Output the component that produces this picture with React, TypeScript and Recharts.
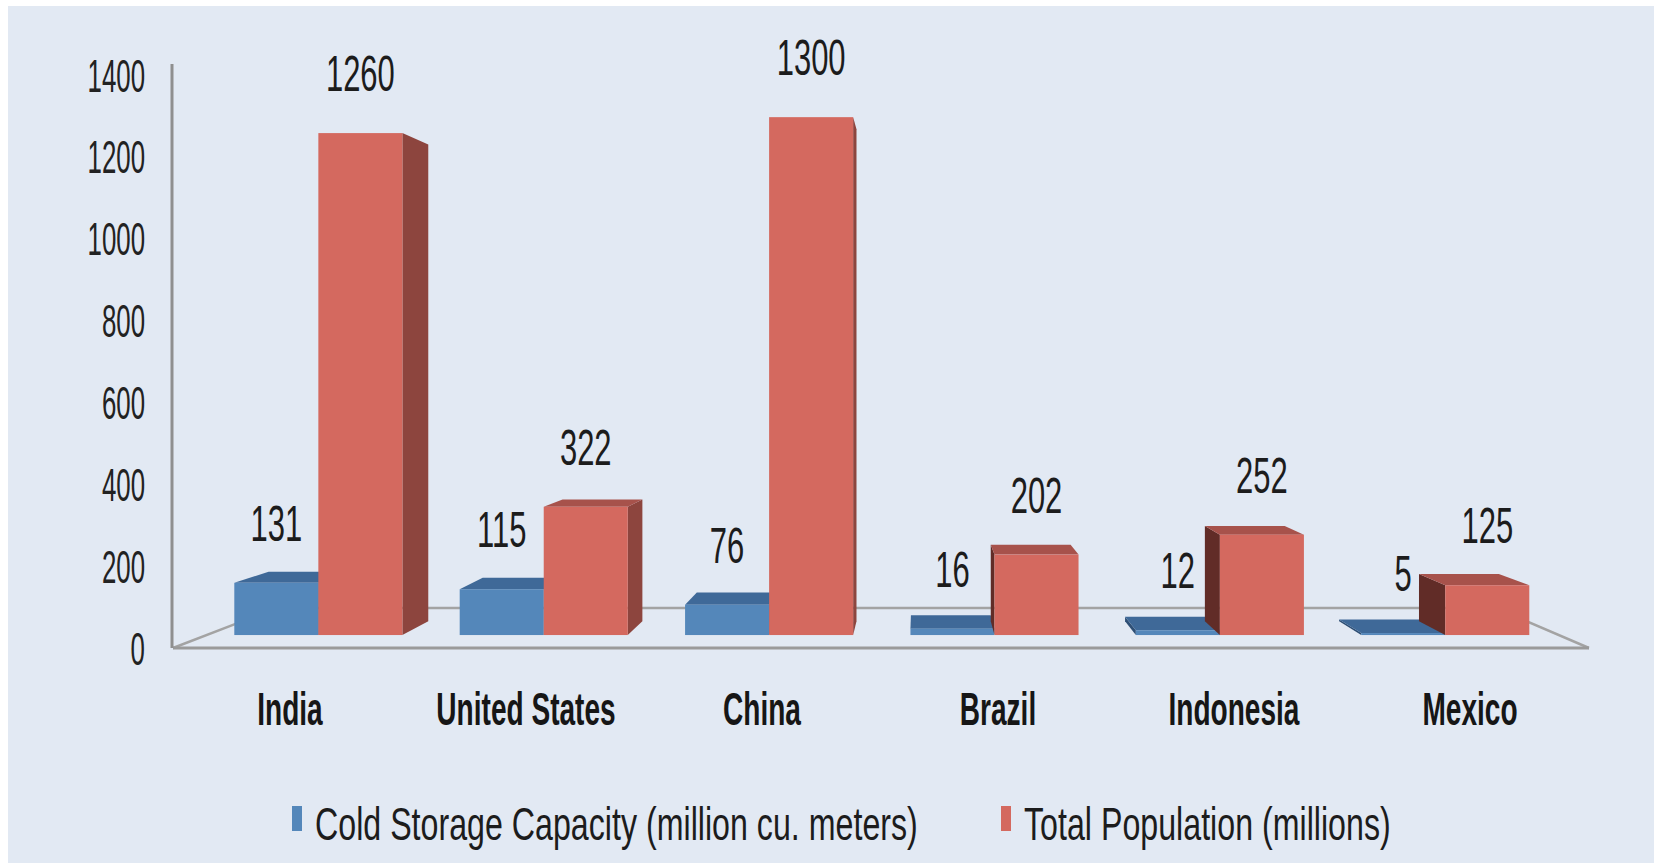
import React from 'react';
import { BarChart, Bar, XAxis, YAxis, Legend, LabelList } from 'recharts';

// Cold storage capacity vs. population, by country
const countries = ['India', 'United States', 'China', 'Brazil', 'Indonesia', 'Mexico'];
const coldStorage = [131, 115, 76, 16, 12, 5]; // million cu. meters
const population = [1260, 322, 1300, 202, 252, 125]; // millions
const yTicks = [0, 200, 400, 600, 800, 1000, 1200, 1400];
const seriesNames = ['Cold Storage Capacity (million cu. meters)', 'Total Population (millions)'];

const data = countries.map((country, i) => ({
  country,
  cold: coldStorage[i],
  pop: population[i],
}));

// Layout
const W = 1661;
const H = 865;
const PLOT_LEFT = 172;
const PLOT_RIGHT = 1588;
const PLOT_TOP = 64;
const PLOT_BOTTOM = 648;

// Pseudo-3D camera: vanishing point, depth of bar plane, bar depth, floor depth
const VP = { x: 920, y: 360 };
const F0 = 0.045;
const FD = 0.05;
const FLOOR = 0.139;

const FONT = "'Liberation Sans', Arial, Helvetica, sans-serif";

const toward = (px: number, py: number, f: number) => ({
  x: px + (VP.x - px) * f,
  y: py + (VP.y - py) * f,
});

const pts = (arr: { x: number; y: number }[]) => arr.map((p) => `${p.x},${p.y}`).join(' ');

type TextProps = {
  x: number;
  y: number;
  size: number;
  sx: number;
  anchor?: 'start' | 'middle' | 'end';
  weight?: number | string;
  fill?: string;
  children: React.ReactNode;
};

function NarrowText({ x, y, size, sx, anchor = 'middle', weight = 400, fill = '#1c1c1c', children }: TextProps) {
  return (
    <text
      transform={`translate(${x},${y}) scale(${sx},1)`}
      x={0}
      y={0}
      fontSize={size}
      fontFamily={FONT}
      fontWeight={weight}
      textAnchor={anchor}
      fill={fill}
    >
      {children}
    </text>
  );
}

type Faces = { front: string; top: string; sideRight: string; sideLeft: string };

const blueFaces: Faces = { front: '#5487ba', top: '#3f6998', sideRight: '#345a84', sideLeft: '#2e4f75' };
const redFaces: Faces = { front: '#d4695f', top: '#a7524b', sideRight: '#8d453e', sideLeft: '#612c27' };

function makeBox(faces: Faces) {
  return (props: any) => {
    const { x, y, width, height } = props;
    if (width == null || height == null) return null;
    // front face pushed back onto the bar plane
    const a = toward(x, y, F0);
    const b = toward(x + width, y + height, F0);
    const x0 = a.x;
    const y0 = a.y;
    const x1 = b.x;
    const y1 = b.y;
    const parts: React.ReactNode[] = [];
    if (x1 < VP.x) {
      parts.push(
        <polygon
          key="sr"
          points={pts([{ x: x1, y: y0 }, toward(x1, y0, FD), toward(x1, y1, FD), { x: x1, y: y1 }])}
          fill={faces.sideRight}
        />
      );
    } else if (x0 > VP.x) {
      parts.push(
        <polygon
          key="sl"
          points={pts([{ x: x0, y: y0 }, toward(x0, y0, FD), toward(x0, y1, FD), { x: x0, y: y1 }])}
          fill={faces.sideLeft}
        />
      );
    }
    if (y0 > VP.y) {
      parts.push(
        <polygon
          key="top"
          points={pts([{ x: x0, y: y0 }, { x: x1, y: y0 }, toward(x1, y0, FD), toward(x0, y0, FD)])}
          fill={faces.top}
        />
      );
    }
    parts.push(<rect key="front" x={x0} y={y0} width={x1 - x0} height={Math.max(0, y1 - y0)} fill={faces.front} />);
    return <g>{parts}</g>;
  };
}

const BlueBox = makeBox(blueFaces);
const RedBox = makeBox(redFaces);

function ValueLabel(props: any) {
  const { x, y, width, value } = props;
  if (x == null || y == null) return null;
  const top = toward(x + width / 2, y, F0);
  return (
    <NarrowText x={top.x} y={top.y - 42} size={50} sx={0.62}>
      {value}
    </NarrowText>
  );
}

function YTick(props: any) {
  const { y, payload } = props;
  // labels sit slightly toward the floor, following the axis wall
  const ly = y + (PLOT_BOTTOM - y) * 0.018;
  return (
    <NarrowText x={145} y={ly + 17} size={47} sx={0.55} anchor="end" fill="#222">
      {payload.value}
    </NarrowText>
  );
}

function XTick(props: any) {
  const { x, payload } = props;
  return (
    <NarrowText x={x} y={725} size={46} sx={0.61} weight={700} fill="#161616">
      {payload.value}
    </NarrowText>
  );
}

const LEGEND_X = [292, 1001];

function LegendContent(props: any) {
  const payload = props.payload || [];
  return (
    <svg width={W} height={70} style={{ display: 'block' }}>
      {payload.map((item: any, i: number) => (
        <g key={i}>
          <rect x={LEGEND_X[i]} y={13} width={10} height={25} fill={item.color} />
          <NarrowText x={LEGEND_X[i] + 23} y={47} size={46} sx={0.7} anchor="start" fill="#1c1c1c">
            {item.value}
          </NarrowText>
        </g>
      ))}
    </svg>
  );
}

function Floor() {
  const fl = { x: PLOT_LEFT + 1, y: PLOT_BOTTOM };
  const fr = { x: PLOT_RIGHT + 1, y: PLOT_BOTTOM };
  const bl = toward(fl.x, fl.y, FLOOR);
  const br = toward(fr.x, fr.y, FLOOR);
  return (
    <svg width={W} height={H} style={{ position: 'absolute', left: 0, top: 0 }}>
      <polyline points={pts([fl, bl, br, fr])} fill="none" stroke="#a3a3a3" strokeWidth={2.5} />
      <line x1={fl.x} y1={fl.y} x2={fr.x} y2={fr.y} stroke="#9a9a9a" strokeWidth={3} />
    </svg>
  );
}

export default function App() {
  return (
    <div style={{ position: 'absolute', left: 0, top: 0, width: W, height: H, background: '#ffffff', overflow: 'hidden' }}>
      <div style={{ position: 'absolute', left: 8, top: 6, width: 1646, height: 857, background: '#e2e9f3' }} />
      <Floor />
      <div style={{ position: 'absolute', left: 0, top: 0 }}>
        <BarChart
          width={W}
          height={H}
          data={data}
          margin={{ top: PLOT_TOP, right: W - PLOT_RIGHT, bottom: H - PLOT_BOTTOM - 60, left: PLOT_LEFT - 80 }}
          barGap={0}
          barSize={88}
        >
          <XAxis
            dataKey="country"
            axisLine={false}
            tickLine={false}
            height={60}
            interval={0}
            tick={<XTick />}
          />
          <YAxis
            domain={[0, 1400]}
            ticks={yTicks}
            width={80}
            axisLine={{ stroke: '#8f8f8f', strokeWidth: 3 }}
            tickLine={false}
            tick={<YTick />}
            allowDataOverflow
          />
          <Legend
            layout="horizontal"
            verticalAlign="middle"
            align="center"
            wrapperStyle={{ position: 'absolute', left: 0, top: 793, width: W, height: 70 }}
            content={<LegendContent />}
          />
          <Bar dataKey="cold" name={seriesNames[0]} fill={blueFaces.front} shape={BlueBox} isAnimationActive={false}>
            <LabelList dataKey="cold" content={<ValueLabel />} />
          </Bar>
          <Bar dataKey="pop" name={seriesNames[1]} fill={redFaces.front} shape={RedBox} isAnimationActive={false}>
            <LabelList dataKey="pop" content={<ValueLabel />} />
          </Bar>
        </BarChart>
      </div>
    </div>
  );
}
